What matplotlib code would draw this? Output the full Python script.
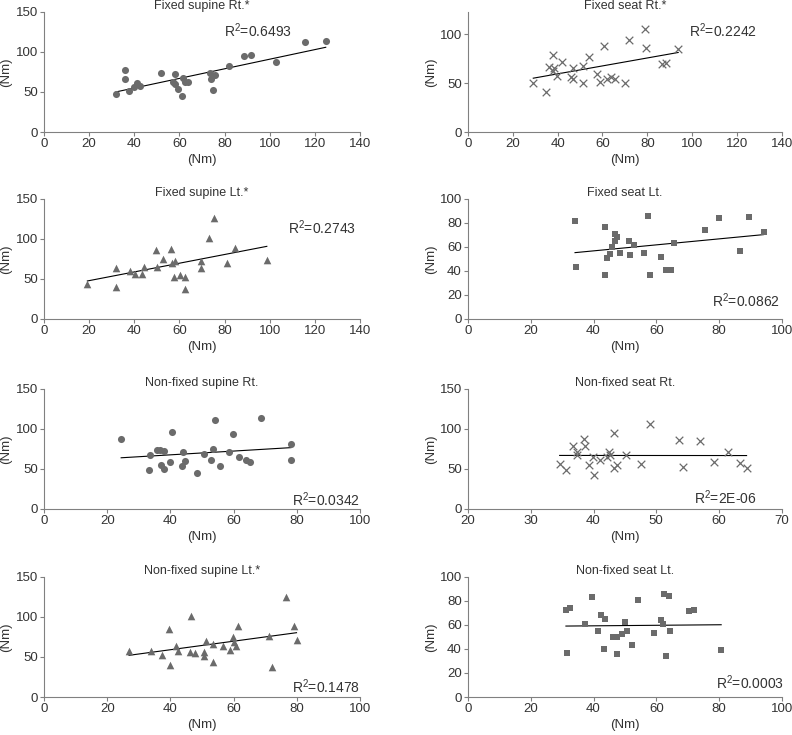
import numpy as np
import matplotlib
matplotlib.use("Agg")
import matplotlib.pyplot as plt

plt.rcParams['font.family'] = ['Liberation Sans', 'DejaVu Sans']
plt.rcParams['font.size'] = 8.5
plt.rcParams['mathtext.fontset'] = 'custom'
plt.rcParams['mathtext.rm'] = 'Liberation Sans'

# Fixed supine Rt.*
fsr_x = [32, 36, 36, 37.5, 40, 41, 42.5, 52, 58, 57, 58, 59.5, 61, 61.5, 62.5, 64,
         73.6, 74, 75.7, 75, 81.8, 88.4, 91.5, 102.6, 115.5, 124.8]
fsr_y = [48, 77, 66, 51, 56, 61, 58, 74, 72, 62, 60, 54, 44.5, 68, 62, 62,
         74, 66, 71, 53, 82, 94.6, 96.7, 88, 112, 114]

# Fixed seat Rt.*
fer_x = [29.1, 34.8, 36.3, 37.7, 38.2, 37.9, 39.7, 41.9, 46.7, 46, 46.9, 51.3, 51.4,
         54.1, 57.5, 59.1, 60.5, 62, 63.9, 65.5, 70, 71.8, 79, 79.5, 86.6, 88.3, 93.8]
fer_y = [49.8, 41, 66.9, 79.2, 65.5, 63, 57.7, 72, 65.9, 56, 54.6, 67.2, 50.5,
         77.1, 59, 51.2, 87.7, 54.6, 56.7, 54.6, 50.5, 94.2, 106, 85.7, 69.3, 71, 85]

# Fixed supine Lt.*
fsl_x = [19.2, 32.1, 31.8, 38, 40.2, 43.5, 44.5, 49.4, 50.1, 52.6, 56.2, 56.6, 58.2,
         57.5, 60.1, 62.6, 62.6, 69.6, 69.6, 73.2, 75.3, 80.9, 84.7, 98.7]
fsl_y = [44, 64, 39.5, 59.4, 56.5, 56.5, 65.2, 85.6, 64.8, 74.8, 87.7, 69.8, 72.3,
         52.3, 54.8, 52.8, 37.4, 72.3, 63.6, 101.8, 126.3, 70.2, 88.5, 73.5]

# Fixed seat Lt.
fel_x = [34.1, 34.4, 43.6, 43.7, 44.2, 45.1, 45.8, 46.8, 47.0, 47.6, 48.5, 51.3, 51.5,
         52.9, 56.2, 57.3, 58.0, 61.6, 63.2, 64.6, 65.5, 75.5, 79.9, 86.6, 89.6, 94.2]
fel_y = [81.6, 43.2, 76.9, 36.8, 50.7, 53.8, 59.9, 64.9, 71, 68.5, 54.9, 64.9, 53.2,
         61.6, 55.2, 86.1, 36.8, 51.3, 40.4, 40.4, 63.2, 74.1, 84.4, 56.5, 84.7, 72.7]

# Non-fixed supine Rt.
nsr_x = [24.4, 33.5, 33.3, 35.6, 36.6, 37.1, 38.0, 38.1, 39.9, 40.5, 43.8, 44.1, 44.6,
         48.3, 50.7, 52.7, 53.6, 54.1, 55.6, 58.6, 59.7, 61.6, 63.8, 65.2, 68.8, 78.1, 78.0]
nsr_y = [87.2, 66.9, 48.2, 73.5, 73.5, 55.3, 50.3, 72.7, 58.6, 96.4, 53.6, 70.6, 59.8,
         45.3, 68.1, 61.1, 75.2, 111.3, 54, 71, 94.3, 64.4, 61.5, 59, 113.8, 81, 61.5]

# Non-fixed seat Rt.
ner_x = [34.6, 35.6, 36.7, 37.3, 37.3, 38.5, 38.7, 39.2, 39.9, 40.0, 41.1, 42.2, 42.4,
         42.6, 43.2, 43.2, 43.7, 45.2, 47.5, 49.0, 53.6, 54.3, 56.9, 59.2, 61.5, 63.4, 64.4]
ner_y = [56.5, 49, 78.1, 71.5, 66.9, 87.2, 78.9, 54.8, 65.2, 42.8, 60.7, 64.8, 71,
         66.9, 95.1, 51.5, 54.4, 66.9, 56.5, 106.4, 86, 51.9, 84.7, 58.6, 70.6, 57.7, 51.1]

# Non-fixed supine Lt.*
nsl_x = [26.9, 33.7, 37.3, 39.6, 39.9, 41.9, 42.4, 46.4, 46.1, 47.7, 50.7, 50.7, 51.4,
         53.4, 53.6, 56.7, 59.0, 59.8, 60.0, 60.7, 61.5, 71.1, 72.1, 76.5, 79.1, 79.9]
nsl_y = [57.9, 57.9, 52.9, 85.4, 39.6, 63.8, 57.1, 100.8, 56.3, 54.6, 55.8, 50.8, 69.6,
         65.8, 43.8, 63.3, 59.2, 74.6, 68.8, 63.3, 88.8, 75.8, 37.1, 125, 88.3, 70.8]

# Non-fixed seat Lt.
nel_x = [31.2, 32.6, 31.6, 37.4, 39.5, 41.3, 42.3, 43.2, 43.8, 46.2, 47.5, 47.5, 49.1,
         50.1, 50.7, 52.2, 54.1, 59.2, 61.4, 62.4, 62.3, 63.2, 64.0, 64.4, 70.4, 71.9, 80.7]
nel_y = [72.2, 74.4, 36.7, 60.8, 83.1, 54.7, 68.6, 40, 65.3, 50, 50, 36.1, 52.5,
         62.8, 55.3, 43.3, 81.1, 53.3, 64.4, 85.6, 60.8, 34.4, 84.4, 55.3, 71.4, 72.5, 39.2]

titles = ["Fixed supine Rt.*", "Fixed seat Rt.*", "Fixed supine Lt.*", "Fixed seat Lt.",
          "Non-fixed supine Rt.", "Non-fixed seat Rt.", "Non-fixed supine Lt.*", "Non-fixed seat Lt."]
r2_labels = ["0.6493", "0.2242", "0.2743", "0.0862", "0.0342", "2E-06", "0.1478", "0.0003"]

panels = [
    (fsr_x, fsr_y, 'o', (0, 140), (0, 150), 20, 50, (79.7, 126.7)),
    (fer_x, fer_y, 'x', (0, 140), (0, 123), 20, 50, (98.4, 103.8)),
    (fsl_x, fsl_y, '^', (0, 140), (0, 150), 20, 50, (107.9, 114.7)),
    (fel_x, fel_y, 's', (0, 100), (0, 100), 20, 20, (77.9, 15)),
    (nsr_x, nsr_y, 'o', (0, 100), (0, 150), 20, 50, (78.6, 11.6)),
    (ner_x, ner_y, 'x', (20, 70), (0, 150), 10, 50, (56, 14)),
    (nsl_x, nsl_y, '^', (0, 100), (0, 150), 20, 50, (78.5, 12.5)),
    (nel_x, nel_y, 's', (0, 100), (0, 100), 20, 20, (79, 11.7)),
]

fig = plt.figure(figsize=(7.92, 7.35), dpi=100)
lefts = [0.0556, 0.591]
widths = [0.399, 0.396]
bottoms = [0.8204, 0.566, 0.3075, 0.0517]
h = 0.1633
gray = '#6b6b6b'
sizes = {'o': 26, 'x': 30, '^': 30, 's': 22}

for i, (x, y, m, xl, yl, xs, ys, tpos) in enumerate(panels):
    r, c = divmod(i, 2)
    ax = fig.add_axes([lefts[c], bottoms[r], widths[c], h])
    x = np.array(x)
    y = np.array(y)
    if m == 'x':
        ax.scatter(x, y, marker='x', s=sizes[m], c=gray, linewidths=0.9, zorder=3)
    else:
        ax.scatter(x, y, marker=m, s=sizes[m], c=gray, linewidths=0, zorder=3)
    k, b = np.polyfit(x, y, 1)
    xx = np.array([x.min(), x.max()])
    ax.plot(xx, k * xx + b, color='black', lw=0.8, zorder=2)
    ax.set_xlim(*xl)
    ax.set_ylim(*yl)
    ax.set_xticks(np.arange(xl[0], xl[1] + 0.1, xs))
    ax.set_yticks(np.arange(0, yl[1] + 0.1, ys))
    for s in ['top', 'right']:
        ax.spines[s].set_visible(False)
    for s in ['left', 'bottom']:
        ax.spines[s].set_color('#808080')
        ax.spines[s].set_linewidth(0.8)
    ax.tick_params(direction='out', length=3, width=0.8, color='#808080',
                   labelcolor='#333333', labelsize=9.5, pad=1.5)
    ax.set_title(titles[i], fontsize=9, color='#333333', pad=2)
    ax.set_xlabel('(Nm)', fontsize=9.5, color='#333333', labelpad=3)
    ax.set_ylabel('(Nm)', fontsize=9.5, color='#333333')
    ax.yaxis.set_label_coords(-0.1, 0.5)
    ax.text(tpos[0], tpos[1], 'R$^2$=' + r2_labels[i], fontsize=10, color='#333333',
            va='center', ha='left')

fig.savefig('out.png', dpi=100)
